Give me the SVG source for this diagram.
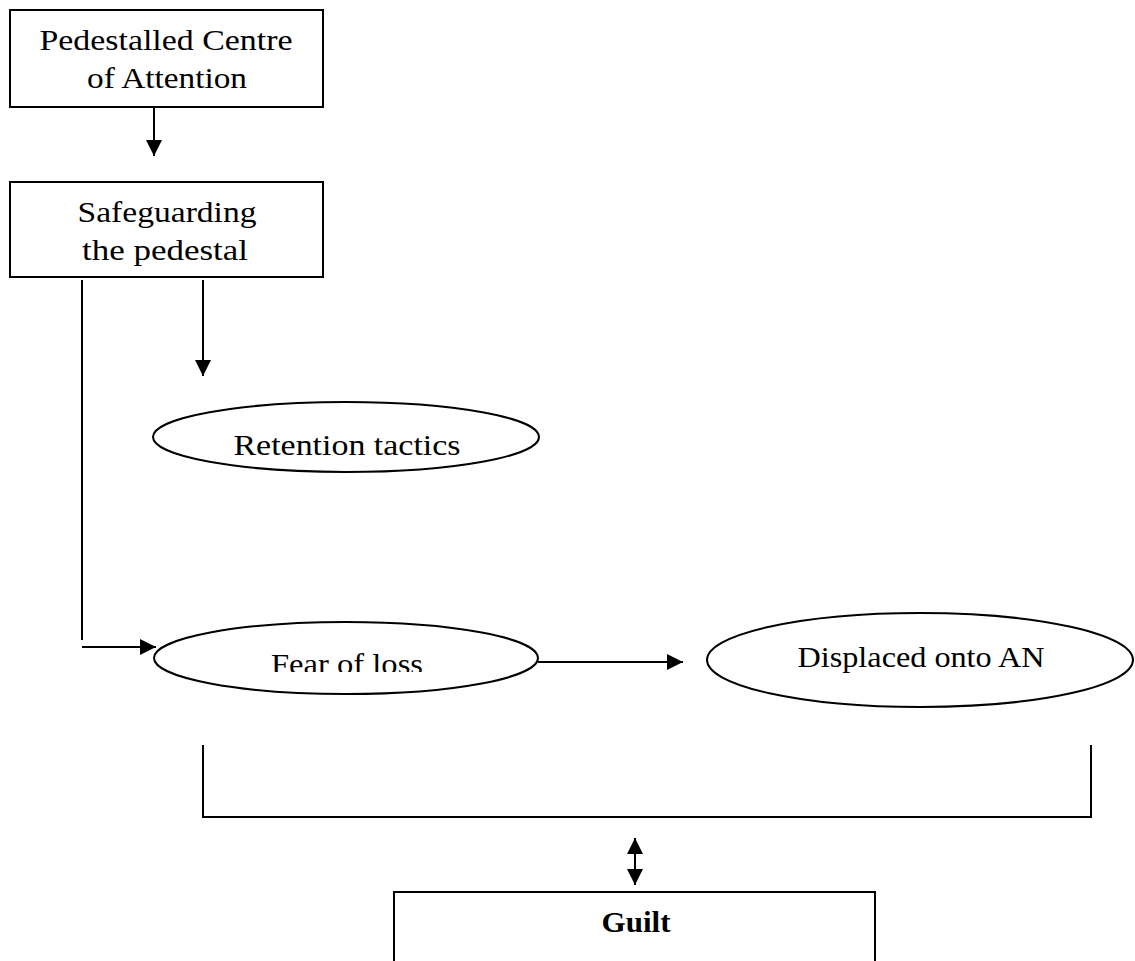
<svg xmlns="http://www.w3.org/2000/svg" width="1135" height="961" viewBox="0 0 1135 961">
  <style>
    .box { fill: #fff; stroke: #000; stroke-width: 2; }
    .oval { fill: #fff; stroke: #000; stroke-width: 2; }
    .lbl { font-family: "Liberation Serif", "DejaVu Serif", serif; font-size: 30px; fill: #000; text-anchor: middle; }
    .bold { font-weight: bold; }
    .wire { fill: none; stroke: #000; stroke-width: 2; }
  </style>
  <defs>
    <marker id="head" viewBox="0 0 16 16" refX="16" refY="8" markerWidth="16" markerHeight="16" markerUnits="userSpaceOnUse" orient="auto-start-reverse">
      <path d="M0,0 L16,8 L0,16 Z" fill="#000"/>
    </marker>
    <clipPath id="fearClip">
      <rect x="150" y="600" width="400" height="72"/>
    </clipPath>
  </defs>

  <rect width="1135" height="961" fill="#fff"/>

  <g id="connectors">
    <!-- centre of attention to safeguarding -->
    <line class="wire" x1="154" y1="107" x2="154" y2="156" marker-end="url(#head)"/>
    <!-- safeguarding to retention tactics -->
    <line class="wire" x1="203" y1="280" x2="203" y2="376" marker-end="url(#head)"/>
    <!-- safeguarding down and across to fear of loss -->
    <line class="wire" x1="82" y1="280" x2="82" y2="640"/>
    <line class="wire" x1="82" y1="647" x2="156" y2="647" marker-end="url(#head)"/>
    <!-- fear of loss to displaced -->
    <line class="wire" x1="538" y1="662" x2="683" y2="662" marker-end="url(#head)"/>
    <!-- bracket grouping the two ovals -->
    <path class="wire" d="M203,745 V817 H1091 V745"/>
    <!-- two-way link with guilt -->
    <line class="wire" x1="635" y1="838" x2="635" y2="885" marker-start="url(#head)" marker-end="url(#head)"/>
  </g>

  <g id="pedestalled">
    <rect class="box" x="10" y="10" width="313" height="97"/>
    <text class="lbl" x="166" y="50" textLength="253" lengthAdjust="spacingAndGlyphs">Pedestalled Centre</text>
    <text class="lbl" x="167" y="88" textLength="160" lengthAdjust="spacingAndGlyphs">of Attention</text>
  </g>

  <g id="safeguarding">
    <rect class="box" x="10" y="182" width="313" height="95"/>
    <text class="lbl" x="167" y="222" textLength="179" lengthAdjust="spacingAndGlyphs">Safeguarding</text>
    <text class="lbl" x="165" y="260" textLength="166" lengthAdjust="spacingAndGlyphs">the pedestal</text>
  </g>

  <g id="retention">
    <ellipse class="oval" cx="346" cy="437" rx="193" ry="35"/>
    <text class="lbl" x="347" y="455" textLength="227" lengthAdjust="spacingAndGlyphs">Retention tactics</text>
  </g>

  <g id="fear">
    <ellipse class="oval" cx="346" cy="658" rx="192" ry="36"/>
    <text class="lbl" x="347" y="674" textLength="152" lengthAdjust="spacingAndGlyphs" clip-path="url(#fearClip)">Fear of loss</text>
  </g>

  <g id="displaced">
    <ellipse class="oval" cx="920" cy="660" rx="213" ry="47"/>
    <text class="lbl" x="921" y="667" textLength="247" lengthAdjust="spacingAndGlyphs">Displaced onto AN</text>
  </g>

  <g id="guilt">
    <rect class="box" x="394" y="892" width="481" height="80"/>
    <text class="lbl bold" x="636" y="932" textLength="69" lengthAdjust="spacingAndGlyphs">Guilt</text>
  </g>
</svg>
